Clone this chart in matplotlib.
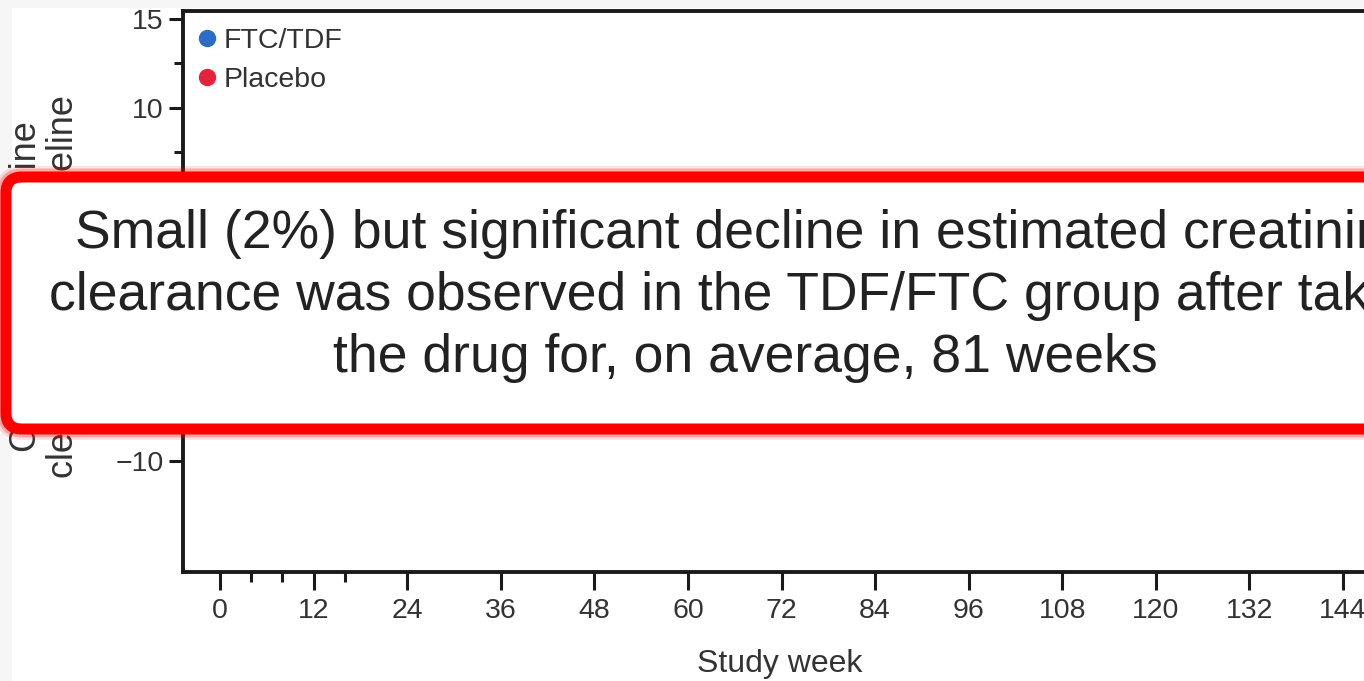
import matplotlib
matplotlib.use("Agg")
import matplotlib.pyplot as plt
from matplotlib.lines import Line2D
from matplotlib.patches import FancyBboxPatch, Rectangle
from matplotlib.transforms import IdentityTransform

W, H = 1364, 681

# series shown in the key
groups = ["FTC/TDF", "Placebo"]
group_colors = ["#2b6cc4", "#e5233d"]

# axis ticks
week_ticks = [0, 12, 24, 36, 48, 60, 72, 84, 96, 108, 120, 132, 144]
week_minor = [4, 8, 16]
change_ticks = [-10, -5, 0, 5, 10, 15]
change_minor = [-7.5, -2.5, 2.5, 7.5, 12.5]

note_lines = [
    "Small (2%) but significant decline in estimated creatinine",
    "clearance was observed in the TDF/FTC group after taking",
    "the drug for, on average, 81 weeks",
]

plt.rcParams["font.family"] = ["Liberation Sans", "DejaVu Sans"]

fig = plt.figure(figsize=(W / 100, H / 100), dpi=100, facecolor="#f6f6f6")
fig.add_artist(Rectangle((12, 0), W, H - 8, transform=IdentityTransform(),
                         facecolor="white", edgecolor="none", zorder=-5))

# axes run past the right edge, so only the left part shows
left, right = 183 / W, 1432 / W
bottom, top = 1 - 572 / H, 1 - 10.5 / H
ax = fig.add_axes([left, bottom, right - left, top - bottom])
ax.set_facecolor("white")
ax.set_xlim(-4.74, 155.4)
ax.set_ylim(-16.3, 15.5)

for s in ["left", "top", "bottom"]:
    ax.spines[s].set_linewidth(2.8)
    ax.spines[s].set_color("#1a1a1a")
ax.spines["right"].set_visible(False)

ax.set_xticks(week_ticks)
ax.set_xticks(week_minor, minor=True)
ax.set_yticks(change_ticks)
ax.set_yticks(change_minor, minor=True)
ax.set_yticklabels(["\u2212" + str(-v) if v < 0 else str(v) for v in change_ticks])
ax.tick_params(axis="x", which="major", length=13, width=2.2, labelsize=20.5,
               pad=6, colors="#1a1a1a", labelcolor="#333333")
ax.tick_params(axis="x", which="minor", length=7, width=2.2, colors="#1a1a1a")
ax.tick_params(axis="y", which="major", length=10, width=2.2, labelsize=20.5,
               pad=4, colors="#1a1a1a", labelcolor="#333333")
ax.tick_params(axis="y", which="minor", length=6.5, width=2.2, colors="#1a1a1a")

ax.set_xlabel("Study week", fontsize=23, color="#333333")
ax.xaxis.set_label_coords((780 - 183) / (1432 - 183), -(649 - 572) / (572 - 10.5))

fig.text(45 / W, 1 - 287 / H, "Change in creatinine\nclearance from baseline",
         rotation=90, ha="center", va="center", fontsize=26, color="#333333",
         linespacing=1.05, multialignment="center")

handles = [Line2D([], [], marker="o", ls="", color=c, markersize=11.5)
           for c in group_colors]
ax.legend(handles, groups, loc="upper left", frameon=False, fontsize=20.5,
          handlelength=0.6, handletextpad=0.3, labelspacing=0.45,
          borderpad=0, borderaxespad=0,
          bbox_to_anchor=((198 - 183) / (1432 - 183), 1 - (28 - 10.5) / (572 - 10.5)),
          labelcolor="#333333")

# callout box laid over the plot
x0, y0, bw, bh = 6, H - 429, 1420, 252
for lw, a in [(22, 0.12), (17, 0.25)]:
    fig.add_artist(FancyBboxPatch((x0, y0), bw, bh, boxstyle="round,pad=0,rounding_size=16",
                                  transform=IdentityTransform(), facecolor="none",
                                  edgecolor="#ff0000", linewidth=lw * 0.72, alpha=a, zorder=4))
fig.add_artist(FancyBboxPatch((x0, y0), bw, bh, boxstyle="round,pad=0,rounding_size=16",
                              transform=IdentityTransform(), facecolor="white",
                              edgecolor="#ff0000", linewidth=11 * 0.72, zorder=5))

for i, line in enumerate(note_lines):
    fig.text(745 / W, 1 - (248 + 62 * i) / H, line, ha="center", va="baseline",
             fontsize=38.5, color="#222222", zorder=6)

fig.savefig("out.png", dpi=100, facecolor=fig.get_facecolor())
